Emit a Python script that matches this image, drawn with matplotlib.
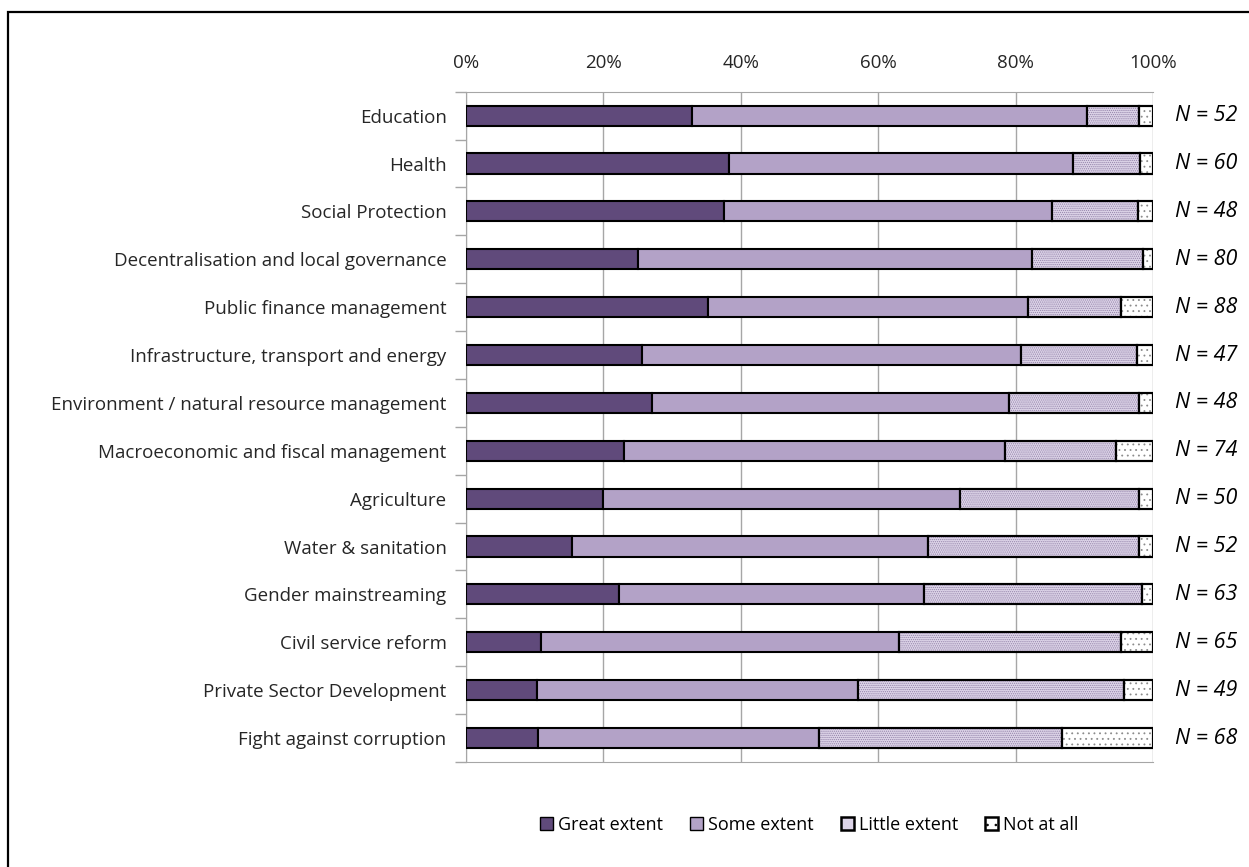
import numpy as np
import matplotlib
matplotlib.use('Agg')
import matplotlib.pyplot as plt
from matplotlib.patches import Rectangle, Patch
from matplotlib.transforms import blended_transform_factory

categories = ['Education', 'Health', 'Social Protection',
              'Decentralisation and local governance', 'Public finance management',
              'Infrastructure, transport and energy',
              'Environment / natural resource management',
              'Macroeconomic and fiscal management', 'Agriculture',
              'Water & sanitation', 'Gender mainstreaming', 'Civil service reform',
              'Private Sector Development', 'Fight against corruption']
n_resp = [52, 60, 48, 80, 88, 47, 48, 74, 50, 52, 63, 65, 49, 68]

great = [32.9, 38.3, 37.6, 25.0, 35.2, 25.6, 27.1, 23.0, 20.0, 15.4, 22.3, 10.9, 10.3, 10.5]
some = [57.5, 50.1, 47.7, 57.4, 46.6, 55.2, 52.0, 55.4, 51.9, 51.9, 44.4, 52.2, 46.8, 40.9]
little = [7.6, 9.7, 12.5, 16.1, 13.5, 16.9, 18.8, 16.2, 26.0, 30.7, 31.7, 32.2, 38.7, 35.3]
not_at_all = [2.0, 1.9, 2.2, 1.5, 4.7, 2.3, 2.1, 5.4, 2.1, 2.0, 1.6, 4.7, 4.2, 13.3]

series = ['Great extent', 'Some extent', 'Little extent', 'Not at all']
fills = ['#604A7B', '#B3A2C7', '#DDD4E8', '#FFFFFF']
hatches = [None, None, '........', '...']
hatch_cols = [None, None, '#9484AA', '#8C8C8C']

plt.rcParams['font.family'] = ['Open Sans', 'DejaVu Sans']
plt.rcParams['hatch.linewidth'] = 0.6

fig = plt.figure(figsize=(12.49, 8.67), dpi=100)
ax = fig.add_axes([466 / 1249, 105 / 867, 687 / 1249, 670.3 / 867])

# frame around the figure (cut by the image edges)
fig.patches.append(Rectangle((8 / 1249, -0.05), 1.1, (867 - 12) / 867 + 0.05,
                             transform=fig.transFigure, fill=False,
                             edgecolor='black', linewidth=1.6, zorder=0))

y = np.arange(len(categories))
left = np.zeros(len(categories))
for vals, name, fc, h, hc in zip([great, some, little, not_at_all], series,
                                 fills, hatches, hatch_cols):
    vals = np.array(vals)
    ax.barh(y, vals, left=left, height=0.42, color=fc, edgecolor='black',
            linewidth=1.5, zorder=3)
    if h is not None:
        ax.barh(y, vals, left=left, height=0.42, color='none', edgecolor=hc,
                hatch=h, linewidth=0, zorder=3)
        ax.barh(y, vals, left=left, height=0.42, color='none', edgecolor='black',
                linewidth=1.5, zorder=4)
    left += vals

ax.set_xlim(0, 100)
ax.set_ylim(len(categories) - 0.5, -0.5)
ax.set_xticks(np.arange(0, 101, 20))
ax.set_xticklabels(['%d%%' % v for v in range(0, 101, 20)])
ax.xaxis.tick_top()
ax.tick_params(axis='x', length=0, pad=14, labelsize=13.5, colors='#262626')
ax.set_yticks(y)
ax.set_yticklabels(categories)
ax.tick_params(axis='y', which='major', length=0, pad=14, labelsize=13.5, colors='#262626')
ax.set_yticks(np.arange(-0.5, len(categories), 1), minor=True)
ax.tick_params(axis='y', which='minor', length=8, color='#A6A6A6', width=1)
ax.grid(axis='x', color='#A6A6A6', linewidth=1, zorder=0)
ax.set_axisbelow(True)
for s in ['top', 'bottom', 'left']:
    ax.spines[s].set_color('#A6A6A6')
ax.spines['right'].set_visible(False)

tr = blended_transform_factory(ax.transAxes, ax.transData)
for yi, n in zip(y, n_resp):
    ax.text(1.032, yi, 'N = %d' % n, transform=tr, ha='left', va='center',
            fontsize=15.5, style='italic', color='black')

# legend swatches: keep the light one plain, a few dots on the white one
leg_hatch = [None, None, None, '..']
leg_lw = [1.0, 1.0, 1.8, 1.8]
handles = []
for name, fc, h, lw in zip(series, fills, leg_hatch, leg_lw):
    handles.append(Patch(facecolor=fc, edgecolor='black', hatch=h, linewidth=lw,
                         label=name))
fig.legend(handles=handles, loc='center', bbox_to_anchor=(809 / 1249, 1 - 825 / 867),
           ncol=4, frameon=False, fontsize=13, handlelength=0.75, handleheight=0.75,
           handletextpad=0.25, columnspacing=1.5)

fig.savefig('out.png', dpi=100)
